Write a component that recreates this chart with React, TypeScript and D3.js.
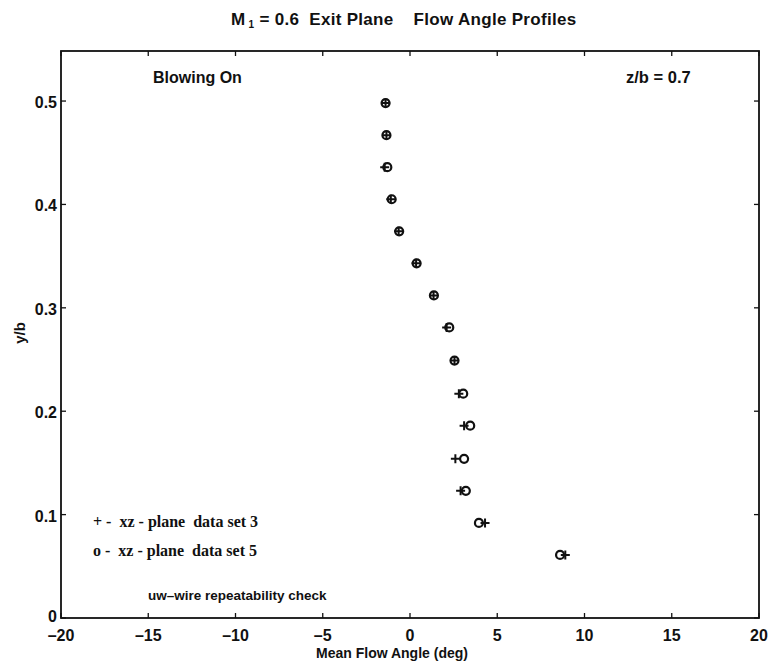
import React from "react";
import * as d3 from "d3";

// y/b stations
const yb = [0.498, 0.467, 0.436, 0.405, 0.374, 0.343, 0.312, 0.281, 0.249, 0.217, 0.186, 0.154, 0.123, 0.092, 0.061];
// data set 3 (+) mean flow angle, deg
const set3 = [-1.4, -1.35, -1.45, -1.1, -0.65, 0.35, 1.35, 2.1, 2.55, 2.8, 3.1, 2.6, 2.9, 4.3, 8.9];
// data set 5 (o) mean flow angle, deg
const set5 = [-1.4, -1.35, -1.3, -1.05, -0.62, 0.38, 1.37, 2.25, 2.55, 3.05, 3.45, 3.1, 3.2, 3.95, 8.6];

const xTicks = [-20, -15, -10, -5, 0, 5, 10, 15, 20];
const yTicks = [0, 0.1, 0.2, 0.3, 0.4, 0.5];

const legendLines = ["+ -  xz - plane  data set 3", "o -  xz - plane  data set 5"];

export default function App() {
  const W = 773, H = 670;
  const left = 61, right = 759, top = 51, bottom = 618;
  const x = d3.scaleLinear().domain([-20, 20]).range([left, right]);
  const y = d3.scaleLinear().domain([0, 0.5484]).range([bottom, top]);
  const sans = "'Liberation Sans', Arial, sans-serif";
  const serif = "'Liberation Serif', 'Times New Roman', serif";
  const ink = "#111";
  const tl = 5;
  return (
    <svg width={W} height={H} style={{ position: "absolute", left: 0, top: 0, background: "#fff" }}>
      <rect x={0} y={0} width={W} height={H} fill="#fff" />
      {/* title */}
      <text x={231} y={25} fontFamily={sans} fontSize={17} fontWeight="bold" letterSpacing={0.3} fill={ink} style={{ whiteSpace: "pre" }}>
        <tspan>M</tspan>
        <tspan fontSize={10} dy={3}>{" 1"}</tspan>
        <tspan dy={-3}>{" = 0.6  Exit Plane    Flow Angle Profiles"}</tspan>
      </text>
      {/* frame */}
      <rect x={left} y={top} width={right - left} height={bottom - top} fill="none" stroke={ink} strokeWidth={1.8} />
      {/* x ticks */}
      {xTicks.map((t) => (
        <g key={"x" + t}>
          <line x1={x(t)} x2={x(t)} y1={bottom} y2={bottom - tl} stroke={ink} strokeWidth={1.3} />
          <line x1={x(t)} x2={x(t)} y1={top} y2={top + tl} stroke={ink} strokeWidth={1.3} />
          <text x={x(t)} y={641} textAnchor="middle" fontFamily={sans} fontSize={16} fontWeight="bold" fill={ink}>
            {t < 0 ? "\u2013" + Math.abs(t) : String(t)}
          </text>
        </g>
      ))}
      {/* y ticks */}
      {yTicks.map((t) => (
        <g key={"y" + t}>
          <line x1={left} x2={left + tl} y1={y(t)} y2={y(t)} stroke={ink} strokeWidth={1.3} />
          <line x1={right} x2={right - tl} y1={y(t)} y2={y(t)} stroke={ink} strokeWidth={1.3} />
          <text x={57} y={t === 0 ? 622 : y(t) + 7} textAnchor="end" fontFamily={sans} fontSize={16} fontWeight="bold" fill={ink}>
            {t === 0 ? "0" : String(t)}
          </text>
        </g>
      ))}
      {/* axis labels */}
      <text x={392} y={658} textAnchor="middle" fontFamily={sans} fontSize={14} fontWeight="bold" fill={ink}>
        Mean Flow Angle (deg)
      </text>
      <text transform="translate(25,333) rotate(-90)" textAnchor="middle" fontFamily={sans} fontSize={15} fontWeight="bold" fill={ink}>
        y/b
      </text>
      {/* annotations */}
      <text x={153} y={83} fontFamily={sans} fontSize={16} fontWeight="bold" fill={ink}>Blowing On</text>
      <text x={626} y={83} fontFamily={sans} fontSize={16.5} fontWeight="bold" fill={ink}>z/b = 0.7</text>
      {legendLines.map((s, i) => (
        <text key={s} x={93} y={527 + i * 29} fontFamily={serif} fontSize={16} fontWeight="bold" fill={ink} style={{ whiteSpace: "pre" }}>
          {s}
        </text>
      ))}
      <text x={148} y={600} fontFamily={sans} fontSize={13.5} fontWeight="bold" fill={ink}>uw–wire repeatability check</text>
      {/* data set 3: plus */}
      {yb.map((v, i) => (
        <path key={"p" + i}
          d={`M${x(set3[i]) - 4.5},${y(v)}h9M${x(set3[i])},${y(v) - 4.5}v9`}
          stroke={ink} strokeWidth={2} fill="none" />
      ))}
      {/* data set 5: circle */}
      {yb.map((v, i) => (
        <circle key={"c" + i} cx={x(set5[i])} cy={y(v)} r={4} fill="none" stroke={ink} strokeWidth={2.2} />
      ))}
    </svg>
  );
}
